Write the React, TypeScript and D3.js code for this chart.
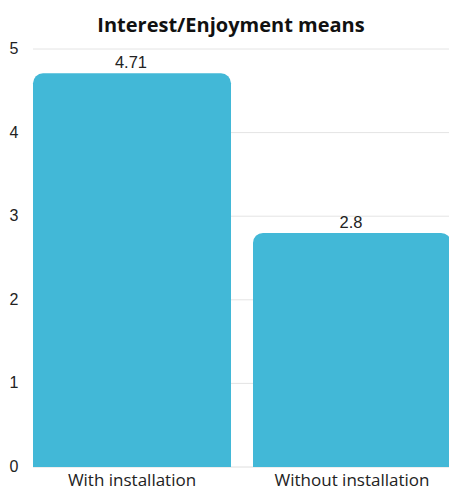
import React from "react";
import * as d3 from "d3";

const categories = ["With installation", "Without installation"];
const values = [4.71, 2.8];
const valueLabels = ["4.71", "2.8"];
const yTicks = [0, 1, 2, 3, 4, 5];
const title = "Interest/Enjoyment means";

export default function App() {
  const W = 449, H = 490;
  const left = 33, right = 451, top = 49, bottom = 467;
  const x = d3.scaleBand<string>().domain(categories).range([left, right]).paddingInner(0.1).paddingOuter(0);
  const y = d3.scaleLinear().domain([0, 5]).range([bottom, top]);
  const r = 10;
  const barPath = (x0: number, w: number, yTop: number, yBot: number) => {
    const p = d3.path();
    p.moveTo(x0, yBot);
    p.lineTo(x0, yTop + r);
    p.arcTo(x0, yTop, x0 + r, yTop, r);
    p.lineTo(x0 + w - r, yTop);
    p.arcTo(x0 + w, yTop, x0 + w, yTop + r, r);
    p.lineTo(x0 + w, yBot);
    p.closePath();
    return p.toString();
  };
  return (
    <svg width={W} height={H} style={{ position: "absolute", left: 0, top: 0, background: "#fff" }}>
      <text x={231} y={32} textAnchor="middle" fontFamily="'Open Sans', sans-serif" fontWeight={700} fontSize={20} fill="#111">
        {title}
      </text>
      {yTicks.map((t) => (
        <g key={t}>
          <line x1={left} x2={W} y1={y(t)} y2={y(t)} stroke={t === 0 ? "#dedede" : "#e4e4e4"} strokeWidth={1} />
          <text x={14} y={y(t) + 5} textAnchor="middle" fontFamily="'Liberation Sans', Arial, sans-serif" fontSize={16} fill="#222">
            {t}
          </text>
        </g>
      ))}
      {categories.map((c, i) => {
        const x0 = x(c)!;
        const w = x.bandwidth();
        return (
          <g key={c}>
            <path d={barPath(x0, w, y(values[i]), y(0))} fill="#42B8D7" />
            <text x={x0 + w / 2 - 1} y={y(values[i]) - 5} textAnchor="middle" fontFamily="'Liberation Sans', Arial, sans-serif" fontSize={16.5} fill="#222">
              {valueLabels[i]}
            </text>
            <text x={x0 + w / 2} y={486} textAnchor="middle" fontFamily="'Open Sans', sans-serif" fontSize={17} fill="#222">
              {c}
            </text>
          </g>
        );
      })}
    </svg>
  );
}
